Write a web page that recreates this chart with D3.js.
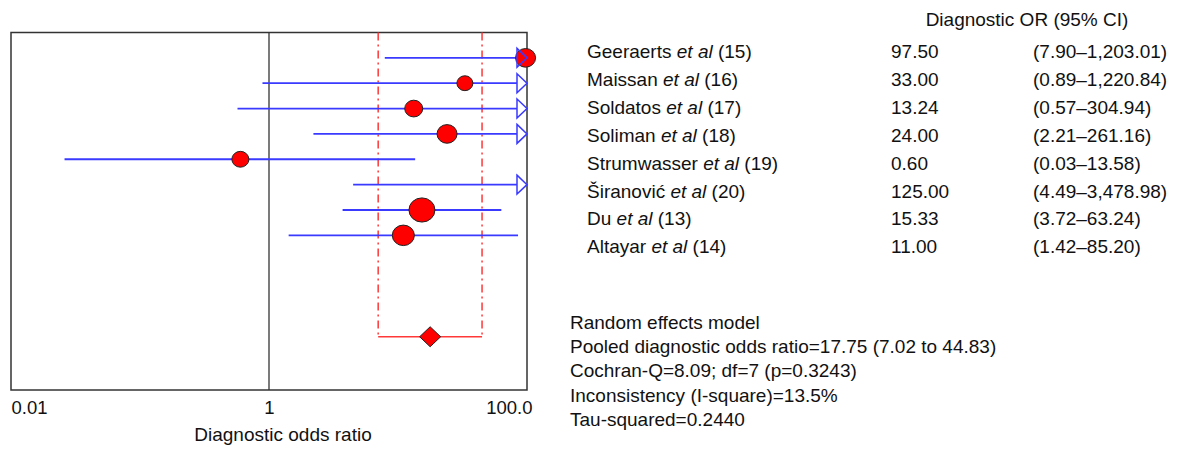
<!DOCTYPE html>
<html><head><meta charset="utf-8">
<script src="https://cdn.jsdelivr.net/npm/d3@7"></script>
<style>
body{margin:0;background:#fff}
text{font-family:"Liberation Sans",Arial,Helvetica,sans-serif;fill:#111}
</style>
</head><body><svg id="c" width="1177" height="449"></svg>
<script>
// ---------- data ----------
const studies = ["Geeraerts", "Maissan", "Soldatos", "Soliman", "Strumwasser", "Širanović", "Du", "Altayar"];
const refs = ["15", "16", "17", "18", "19", "20", "13", "14"];
const oddsRatio = [97.50, 33.00, 13.24, 24.00, 0.60, 125.00, 15.33, 11.00];
const ciLow = [7.90, 0.89, 0.57, 2.21, 0.026, 4.49, 3.72, 1.42];
const ciHigh = [1203.01, 1220.84, 304.94, 261.16, 13.58, 3478.98, 63.24, 85.20];
const weights = [12.9, 8.2, 10.4, 12.9, 9.3, 9.0, 21.7, 15.6];
const orLabels = ["97.50", "33.00", "13.24", "24.00", "0.60", "125.00", "15.33", "11.00"];
const ciLabels = ["(7.90–1,203.01)", "(0.89–1,220.84)", "(0.57–304.94)", "(2.21–261.16)", "(0.03–13.58)", "(4.49–3,478.98)", "(3.72–63.24)", "(1.42–85.20)"];
const pooledOR = 17.75, pooledLow = 7.02, pooledHigh = 44.83;
const xTicks = [0.01, 1, 100];
const xTickLabels = ["0.01", "1", "100.0"];
const summaryLines = [
  "Random effects model",
  "Pooled diagnostic odds ratio=17.75 (7.02 to 44.83)",
  "Cochran-Q=8.09; df=7 (p=0.3243)",
  "Inconsistency (I-square)=13.5%",
  "Tau-squared=0.2440"
];

// ---------- layout ----------
const svg = d3.select("#c");
const L = 11, R = 527, T = 32.5, B = 390;
const x = d3.scaleLog().domain([0.01, 100]).range([L, R]);
const y = d3.scaleLinear().domain([-1, 13.1]).range([T, B]);
const r = d3.scaleSqrt().domain([0, d3.max(weights)]).range([0, 13]);
const pooledRow = 11;
const blue = "#3a3aff", red = "#ff3838";

// box
svg.append("rect").attr("x", L).attr("y", T).attr("width", R - L).attr("height", B - T)
  .attr("fill", "none").attr("stroke", "#333").attr("stroke-width", 1.5);
// line of no effect
svg.append("line").attr("x1", x(1)).attr("x2", x(1)).attr("y1", T).attr("y2", B)
  .attr("stroke", "#333").attr("stroke-width", 1.3);

// pooled CI dashed lines
[pooledLow, pooledHigh].forEach(v => {
  svg.append("line").attr("x1", x(v)).attr("x2", x(v)).attr("y1", T).attr("y2", y(pooledRow))
    .attr("stroke", red).attr("stroke-width", 1.5).attr("stroke-dasharray", "8,4,2,4");
});
svg.append("line").attr("x1", x(pooledLow)).attr("x2", x(pooledHigh))
  .attr("y1", y(pooledRow)).attr("y2", y(pooledRow)).attr("stroke", red).attr("stroke-width", 1.5);

const rows = studies.map((s, i) => ({i, s, or: oddsRatio[i], lo: ciLow[i], hi: ciHigh[i], w: weights[i]}));
const arrowW = 10, arrowH = 9.5;
const xmax = x.domain()[1];

// CI lines
svg.selectAll(".ci").data(rows).enter().append("line")
  .attr("x1", d => x(Math.max(d.lo, x.domain()[0])))
  .attr("x2", d => d.hi > xmax ? x(xmax) - arrowW : x(d.hi))
  .attr("y1", d => y(d.i)).attr("y2", d => y(d.i))
  .attr("stroke", blue).attr("stroke-width", 1.8);

// point estimates
svg.selectAll(".pt").data(rows.filter(d => d.or <= xmax)).enter().append("ellipse")
  .attr("cx", d => x(d.or)).attr("cy", d => y(d.i))
  .attr("rx", d => r(d.w)).attr("ry", d => r(d.w) * 0.93)
  .attr("fill", "#ff0000").attr("stroke", "#222").attr("stroke-width", 1);

// arrows
svg.selectAll(".ar").data(rows.filter(d => d.hi > xmax)).enter().append("path")
  .attr("d", d => {
    const xe = x(xmax), yy = y(d.i);
    return `M${xe - arrowW},${yy - arrowH}L${xe},${yy}L${xe - arrowW},${yy + arrowH}Z`;
  })
  .attr("fill", "none").attr("stroke", blue).attr("stroke-width", 1.5);

// pooled diamond
const dx = x(pooledOR), dy = y(pooledRow);
svg.append("path").attr("d", `M${dx - 10.5},${dy}L${dx},${dy - 10}L${dx + 10.5},${dy}L${dx},${dy + 10}Z`)
  .attr("fill", "#ff0000").attr("stroke", "#222").attr("stroke-width", 1);

// x axis labels
const axis = d3.axisBottom(x).tickValues(xTicks).tickSize(0).tickPadding(0)
  .tickFormat((d, i) => xTickLabels[i]);
const ax = svg.append("g").attr("transform", `translate(0,${B})`).call(axis);
ax.select(".domain").remove();
ax.selectAll("text").attr("y", 24).attr("dy", 0)
  .style("font-size", "18.5px").style("font-family", '"Liberation Sans",Arial,sans-serif').attr("fill", "#111")
  .attr("text-anchor", (d, i) => i === 0 ? "start" : (i === xTicks.length - 1 ? "end" : "middle"))
  .attr("dx", (d, i) => i === xTicks.length - 1 ? 5 : 0);
svg.append("text").attr("x", 283).attr("y", 441).attr("text-anchor", "middle")
  .style("font-size", "19px").text("Diagnostic odds ratio");

// right-hand table
const fs = "19px";
svg.append("text").attr("x", 1027).attr("y", 26).attr("text-anchor", "middle")
  .style("font-size", fs).text("Diagnostic OR (95% CI)");
const ty = i => 58 + 27.9 * i;
rows.forEach(d => {
  const t = svg.append("text").attr("x", 587).attr("y", ty(d.i)).style("font-size", fs);
  t.append("tspan").text(d.s + " ");
  t.append("tspan").style("font-style", "italic").text("et al");
  t.append("tspan").text(" (" + refs[d.i] + ")");
  svg.append("text").attr("x", 891).attr("y", ty(d.i)).style("font-size", fs).text(orLabels[d.i]);
  svg.append("text").attr("x", 1033).attr("y", ty(d.i)).style("font-size", fs).text(ciLabels[d.i]);
});

// summary block
summaryLines.forEach((s, i) => {
  svg.append("text").attr("x", 570).attr("y", 329 + 24.2 * i).style("font-size", "19px").text(s);
});
</script>
</body></html>
